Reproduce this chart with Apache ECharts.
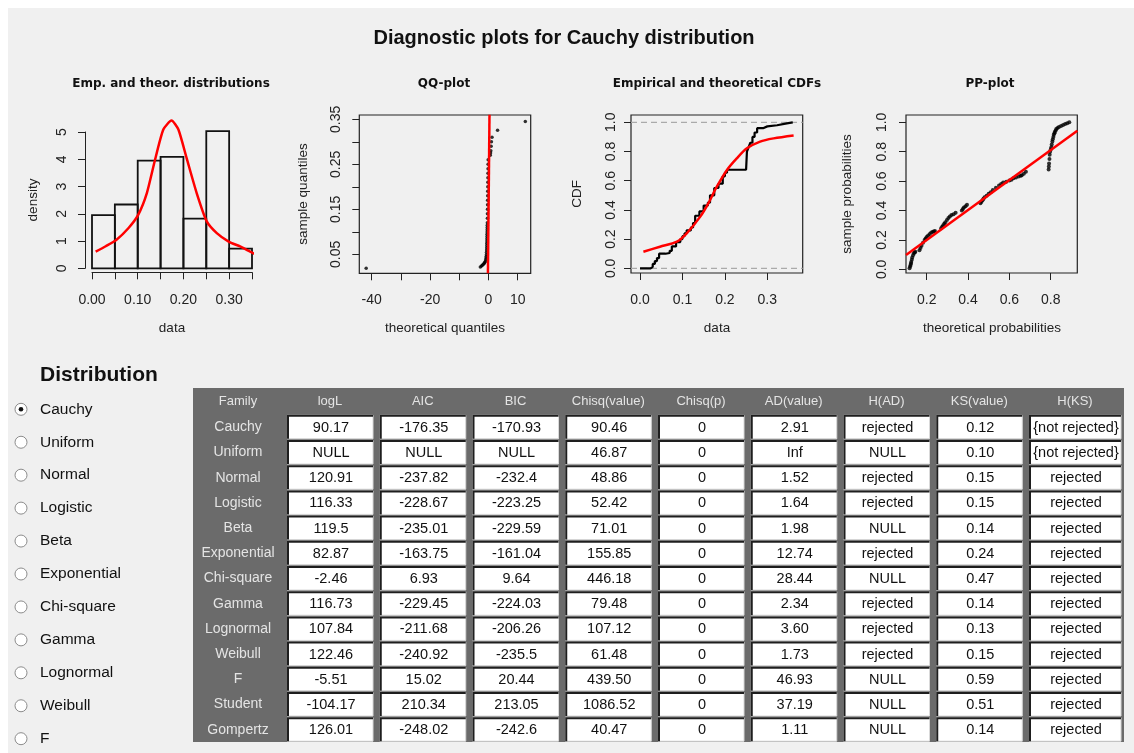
<!DOCTYPE html>
<html><head><meta charset="utf-8">
<script src="https://cdn.jsdelivr.net/npm/echarts@6/dist/echarts.min.js"></script>
<style>html,body{margin:0;padding:0;background:#fff;}#c{width:1134px;height:753px;}</style>
</head><body><div id="c"></div>
<script>
// ---------------- DATA ----------------
const mainTitle = 'Diagnostic plots for Cauchy distribution';
const plotTitles = ['Emp. and theor. distributions', 'QQ-plot', 'Empirical and theoretical CDFs', 'PP-plot'];
const xNames = ['data', 'theoretical quantiles', 'data', 'theoretical probabilities'];
const yNames = ['density', 'sample quantiles', 'CDF', 'sample probabilities'];

// histogram
const histBinEdges = [0, 0.05, 0.10, 0.15, 0.20, 0.25, 0.30, 0.35];
const histDensity = [1.95, 2.34, 3.95, 4.09, 1.82, 5.03, 0.72];
const densX = [0.008, 0.03, 0.053, 0.08, 0.101, 0.12, 0.137, 0.156, 0.174, 0.189, 0.207, 0.229, 0.251, 0.273, 0.299, 0.324, 0.345, 0.365];
const densY = [0.61, 0.81, 1.04, 1.48, 1.96, 2.76, 3.92, 5.09, 5.42, 5.09, 4.04, 2.76, 1.72, 1.29, 0.98, 0.80, 0.62, 0.45];
const histXTicks = [0, 0.05, 0.10, 0.15, 0.20, 0.25, 0.30, 0.35];
const histXLabels = [0, 0.10, 0.20, 0.30];
const histYTicks = [0, 1, 2, 3, 4, 5];

// QQ plot
const qqTheo = [-41.9, -2.8, -2.4, -2.1, -1.8, -1.5, -1.3, -1.1, -0.95, -0.85, -0.75, -0.7, -0.68, -0.65, -0.62, -0.6, -0.58, -0.56, -0.54, -0.52, -0.5, -0.48, -0.46, -0.44, -0.42, -0.4, -0.38, -0.36, -0.34, -0.32, -0.3, -0.28, -0.26, -0.24, -0.22, -0.2, -0.18, -0.16, -0.14, -0.12, 0.6, 0.7, 0.8, 0.9, 1.0, 1.2, 3.1, 12.6];
const qqSample = [0.019, 0.022, 0.024, 0.026, 0.028, 0.030, 0.032, 0.034, 0.038, 0.042, 0.046, 0.05, 0.055, 0.06, 0.065, 0.07, 0.075, 0.08, 0.085, 0.09, 0.095, 0.10, 0.105, 0.11, 0.115, 0.12, 0.13, 0.14, 0.15, 0.16, 0.17, 0.18, 0.19, 0.20, 0.21, 0.22, 0.23, 0.24, 0.25, 0.26, 0.27, 0.275, 0.28, 0.29, 0.30, 0.31, 0.326, 0.345];
const qqLineX = [-0.2, 0.34];
const qqLineY = [0.008, 0.36];
const qqXTicks = [-40, -30, -20, -10, 0, 10];
const qqXLabels = [-40, -20, 0, 10];
const qqYTicks = [0.05, 0.10, 0.15, 0.20, 0.25, 0.30, 0.35];
const qqYLabels = [0.05, 0.15, 0.25, 0.35];

// CDF plot
const ecdfX = [0.0, 0.02, 0.025, 0.03, 0.035, 0.04, 0.045, 0.06, 0.07, 0.075, 0.085, 0.095, 0.1, 0.105, 0.11, 0.12, 0.125, 0.13, 0.14, 0.15, 0.16, 0.165, 0.175, 0.185, 0.195, 0.2, 0.205, 0.25, 0.252, 0.256, 0.26, 0.265, 0.27, 0.276, 0.29, 0.3, 0.323, 0.346, 0.36];
const ecdfY = [0.0, 0.0, 0.01, 0.03, 0.05, 0.07, 0.10, 0.105, 0.12, 0.15, 0.18, 0.20, 0.22, 0.24, 0.26, 0.28, 0.31, 0.36, 0.39, 0.43, 0.45, 0.50, 0.55, 0.58, 0.63, 0.655, 0.675, 0.675, 0.80, 0.83, 0.86, 0.90, 0.93, 0.96, 0.972, 0.98, 0.993, 1.0, 1.0];
const cdfFitX = [0.008, 0.047, 0.087, 0.110, 0.142, 0.161, 0.181, 0.205, 0.228, 0.252, 0.283, 0.315, 0.362];
const cdfFitY = [0.114, 0.148, 0.183, 0.240, 0.354, 0.445, 0.559, 0.674, 0.753, 0.822, 0.868, 0.890, 0.910];
const cdfRefLevels = [0, 1];
const cdfXTicks = [0, 0.1, 0.2, 0.3];
const cdfYTicks = [0, 0.2, 0.4, 0.6, 0.8, 1.0];

// PP plot
const ppTheo = [0.117, 0.12, 0.122, 0.124, 0.125, 0.128, 0.13, 0.134, 0.138, 0.142, 0.145, 0.165, 0.17, 0.175, 0.182, 0.19, 0.195, 0.2, 0.207, 0.215, 0.222, 0.23, 0.235, 0.24, 0.27, 0.275, 0.28, 0.285, 0.29, 0.298, 0.305, 0.312, 0.32, 0.33, 0.34, 0.37, 0.375, 0.38, 0.388, 0.395, 0.46, 0.465, 0.47, 0.475, 0.48, 0.49, 0.5, 0.51, 0.52, 0.535, 0.55, 0.56, 0.57, 0.585, 0.6, 0.61, 0.62, 0.632, 0.645, 0.655, 0.66, 0.67, 0.68, 0.79, 0.791, 0.792, 0.794, 0.795, 0.797, 0.8, 0.803, 0.805, 0.808, 0.81, 0.813, 0.815, 0.818, 0.82, 0.824, 0.827, 0.833, 0.84, 0.85, 0.86, 0.87, 0.88, 0.89];
const ppSample = [0.007, 0.02, 0.03, 0.04, 0.05, 0.065, 0.08, 0.095, 0.11, 0.115, 0.12, 0.13, 0.145, 0.16, 0.18, 0.2, 0.21, 0.22, 0.23, 0.24, 0.25, 0.256, 0.258, 0.26, 0.28, 0.29, 0.30, 0.31, 0.32, 0.335, 0.35, 0.36, 0.37, 0.375, 0.385, 0.40, 0.41, 0.42, 0.43, 0.44, 0.45, 0.46, 0.47, 0.48, 0.49, 0.5, 0.515, 0.525, 0.54, 0.555, 0.57, 0.58, 0.59, 0.595, 0.605, 0.61, 0.62, 0.625, 0.632, 0.636, 0.64, 0.65, 0.664, 0.68, 0.70, 0.72, 0.75, 0.78, 0.80, 0.815, 0.83, 0.85, 0.87, 0.885, 0.9, 0.915, 0.925, 0.935, 0.945, 0.955, 0.962, 0.968, 0.975, 0.982, 0.988, 0.994, 1.0];
const ppLineX = [0.1, 0.929];
const ppLineY = [0.097, 0.943];
const ppXTicks = [0.2, 0.4, 0.6, 0.8];
const ppYTicks = [0, 0.2, 0.4, 0.6, 0.8, 1.0];

// table
const families = ['Cauchy', 'Uniform', 'Normal', 'Logistic', 'Beta', 'Exponential', 'Chi-square', 'Gamma', 'Lognormal', 'Weibull', 'F', 'Student', 'Gompertz'];
const colHeaders = ['Family', 'logL', 'AIC', 'BIC', 'Chisq(value)', 'Chisq(p)', 'AD(value)', 'H(AD)', 'KS(value)', 'H(KS)'];
const logL = ['90.17', 'NULL', '120.91', '116.33', '119.5', '82.87', '-2.46', '116.73', '107.84', '122.46', '-5.51', '-104.17', '126.01'];
const aic = ['-176.35', 'NULL', '-237.82', '-228.67', '-235.01', '-163.75', '6.93', '-229.45', '-211.68', '-240.92', '15.02', '210.34', '-248.02'];
const bic = ['-170.93', 'NULL', '-232.4', '-223.25', '-229.59', '-161.04', '9.64', '-224.03', '-206.26', '-235.5', '20.44', '213.05', '-242.6'];
const chisqValue = ['90.46', '46.87', '48.86', '52.42', '71.01', '155.85', '446.18', '79.48', '107.12', '61.48', '439.50', '1086.52', '40.47'];
const chisqP = ['0', '0', '0', '0', '0', '0', '0', '0', '0', '0', '0', '0', '0'];
const adValue = ['2.91', 'Inf', '1.52', '1.64', '1.98', '12.74', '28.44', '2.34', '3.60', '1.73', '46.93', '37.19', '1.11'];
const hAD = ['rejected', 'NULL', 'rejected', 'rejected', 'NULL', 'rejected', 'NULL', 'rejected', 'rejected', 'rejected', 'NULL', 'NULL', 'NULL'];
const ksValue = ['0.12', '0.10', '0.15', '0.15', '0.14', '0.24', '0.47', '0.14', '0.13', '0.15', '0.59', '0.51', '0.14'];
const hKS = ['{not rejected}', '{not rejected}', 'rejected', 'rejected', 'rejected', 'rejected', 'rejected', 'rejected', 'rejected', 'rejected', 'rejected', 'rejected', 'rejected'];

// radio list
const radioTitle = 'Distribution';
const radioOptions = ['Cauchy', 'Uniform', 'Normal', 'Logistic', 'Beta', 'Exponential', 'Chi-square', 'Gamma', 'Lognormal', 'Weibull', 'F'];
const radioSelected = 'Cauchy';

// ---------------- BUILD ----------------
const FONT = 'Arial, "Liberation Sans", sans-serif';
const TFONT = '"DejaVu Sans", Verdana, sans-serif';
const TXT = '#222';
const zip = (a, b) => a.map((v, i) => [v, b[i]]);

function xAx(gi, min, max, ticks, labels, dec, margin, offset, line) {
  return {
    type: 'value', gridIndex: gi, min: min, max: max, offset: offset || 0,
    axisLine: {show: !!line, onZero: false, lineStyle: {color: '#222', width: 1}},
    axisTick: {show: true, length: 7, inside: false, customValues: ticks, lineStyle: {color: '#222', width: 1}},
    axisLabel: {customValues: labels, formatter: v => Number(v).toFixed(dec), margin: margin, fontSize: 14, color: TXT, fontFamily: FONT},
    splitLine: {show: false}
  };
}
function yAx(gi, min, max, ticks, labels, dec, margin, offset, line) {
  const a = xAx(gi, min, max, ticks, labels, dec, margin, offset, line);
  a.axisLabel.rotate = 90;
  return a;
}

const boxGrid = {show: true, borderColor: '#222', borderWidth: 1.2, backgroundColor: 'transparent'};
const grids = [
  {left: 92, top: 132, width: 160, height: 136.3, show: false},
  Object.assign({left: 359.3, top: 115, width: 171.4, height: 158.3}, boxGrid),
  Object.assign({left: 631, top: 115, width: 171.7, height: 158}, boxGrid),
  Object.assign({left: 906, top: 115, width: 171.3, height: 158}, boxGrid)
];

const xAxes = [
  xAx(0, 0, 0.35, histXTicks, histXLabels, 2, 21, 4, true),
  xAx(1, -44.25, 14.45, qqXTicks, qqXLabels, 0, 20, 0, false),
  xAx(2, -0.0212, 0.3834, cdfXTicks, cdfXTicks, 1, 20, 0, false),
  xAx(3, 0.0999, 0.9287, ppXTicks, ppXTicks, 1, 20, 0, false)
];
const yAxes = [
  yAx(0, 0, 5, histYTicks, histYTicks, 0, 16, 7, true),
  yAx(1, 0.008, 0.3596, qqYTicks, qqYLabels, 2, 16, 0, false),
  yAx(2, -0.032, 1.05, cdfYTicks, cdfYTicks, 1, 13, 0, false),
  yAx(3, -0.025, 1.05, ppYTicks, ppYTicks, 1, 17, 0, false)
];

const RED = '#ff0000';
const series = [
  {
    type: 'custom', xAxisIndex: 0, yAxisIndex: 0, clip: false,
    data: histDensity.map((d, i) => [histBinEdges[i], histBinEdges[i + 1], d]),
    encode: {x: [0, 1], y: 2},
    renderItem: function (params, api) {
      const p0 = api.coord([api.value(0), api.value(2)]);
      const p1 = api.coord([api.value(1), 0]);
      return {type: 'rect', shape: {x: p0[0], y: p0[1], width: p1[0] - p0[0], height: p1[1] - p0[1]},
        style: {fill: 'none', stroke: '#111', lineWidth: 1.8}};
    }
  },
  {type: 'line', xAxisIndex: 0, yAxisIndex: 0, data: zip(densX, densY), smooth: 0.2, showSymbol: false, clip: false,
    lineStyle: {color: RED, width: 2.5}, z: 5},
  {type: 'scatter', xAxisIndex: 1, yAxisIndex: 1, data: zip(qqTheo, qqSample), symbolSize: 3.5,
    itemStyle: {color: '#000'}},
  {type: 'line', xAxisIndex: 1, yAxisIndex: 1, data: zip(qqLineX, qqLineY), showSymbol: false,
    lineStyle: {color: RED, width: 2.5}},
  ...cdfRefLevels.map(l => ({type: 'line', xAxisIndex: 2, yAxisIndex: 2, data: [[-0.0212, l], [0.3834, l]], showSymbol: false,
    lineStyle: {color: '#aaaaaa', width: 1.3, type: [6, 4]}})),
  {type: 'line', xAxisIndex: 2, yAxisIndex: 2, data: zip(ecdfX, ecdfY), step: 'end', showSymbol: false,
    lineStyle: {color: '#000', width: 2.2}},
  {type: 'line', xAxisIndex: 2, yAxisIndex: 2, data: zip(cdfFitX, cdfFitY), smooth: 0.3, showSymbol: false,
    lineStyle: {color: RED, width: 2.5}},
  {type: 'scatter', xAxisIndex: 3, yAxisIndex: 3, data: zip(ppTheo, ppSample), symbolSize: 4,
    itemStyle: {color: '#000'}},
  {type: 'line', xAxisIndex: 3, yAxisIndex: 3, data: zip(ppLineX, ppLineY), showSymbol: false,
    lineStyle: {color: RED, width: 2.5}}
];

// ---------------- GRAPHIC (texts, table, radios) ----------------
const g = [];
g.push({type: 'rect', z: -10, shape: {x: 0, y: 0, width: 1134, height: 8}, style: {fill: '#ffffff'}, silent: true});
g.push({type: 'rect', z: -10, shape: {x: 0, y: 0, width: 8, height: 753}, style: {fill: '#ffffff'}, silent: true});
function txt(t, x, y, font, opts) {
  const o = Object.assign({align: 'center', verticalAlign: 'middle', fill: TXT, rot: 0}, opts || {});
  return {type: 'text', x: x, y: y, rotation: o.rot, z: 10,
    style: {text: t, font: font, fill: o.fill, align: o.align, verticalAlign: o.verticalAlign}};
}
g.push(txt(mainTitle, 564, 38, 'bold 20px ' + FONT, {fill: '#111'}));
const titleX = [171, 444, 717, 990];
plotTitles.forEach((t, i) => g.push(txt(t, titleX[i], 84, 'bold 12px ' + TFONT, {fill: '#111'})));
const xNameX = [172, 445, 717, 992];
xNames.forEach((t, i) => g.push(txt(t, xNameX[i], 328.5, '13.5px ' + FONT)));
const yNameX = [33, 303, 577, 847];
const yNameY = [200, 194, 194, 194];
yNames.forEach((t, i) => g.push(txt(t, yNameX[i], yNameY[i], '13.5px ' + FONT, {rot: Math.PI / 2})));

// table
const tableCols = [logL, aic, bic, chisqValue, chisqP, adValue, hAD, ksValue, hKS];
const cellX = j => 287 + 92.75 * j;
const cellW = j => (j === 8 ? 92 : 86);
const rowY = i => 427.3 + 25.2 * i;
g.push({type: 'rect', shape: {x: 193, y: 388, width: 931, height: 354}, style: {fill: '#6b6b6b'}});
colHeaders.forEach((h, j) => {
  const cx = j === 0 ? 238 : cellX(j - 1) + cellW(j - 1) / 2;
  g.push(txt(h, cx, 401.5, '13px ' + FONT, {fill: '#e4e4e4'}));
});
families.forEach((f, i) => {
  const cy = rowY(i);
  g.push(txt(f, 238, cy, '14px ' + FONT, {fill: '#e4e4e4'}));
  tableCols.forEach((col, j) => {
    const x0 = cellX(j), w = cellW(j), y0 = cy - 12.5, h = 24;
    g.push({type: 'rect', shape: {x: x0, y: y0, width: w, height: h}, style: {fill: '#ffffff'}});
    g.push({type: 'polyline', shape: {points: [[x0 + w, y0 + 0.5], [x0 + w, y0 + h], [x0, y0 + h]]}, style: {stroke: '#d9d9d9', lineWidth: 1, fill: null}});
    g.push({type: 'polyline', shape: {points: [[x0 + 1, y0 + h], [x0 + 1, y0 + 1], [x0 + w, y0 + 1]]}, style: {stroke: '#1e1e1e', lineWidth: 2, fill: null}});
    g.push(txt(col[i], x0 + w / 2 + 1, cy + 0.5, '14.5px ' + FONT, {fill: '#111'}));
  });
});

// radios
g.push(txt(radioTitle, 40, 375, 'bold 21px ' + FONT, {align: 'left', fill: '#111'}));
radioOptions.forEach((r, i) => {
  const cy = 409.3 + 32.94 * i;
  g.push({type: 'circle', shape: {cx: 21, cy: cy, r: 6}, style: {fill: '#ffffff', stroke: '#8c8c8c', lineWidth: 1}});
  if (r === radioSelected) g.push({type: 'circle', shape: {cx: 21, cy: cy, r: 2.3}, style: {fill: '#111'}});
  g.push(txt(r, 40, cy, '15.5px ' + FONT, {align: 'left', fill: '#111'}));
});

const chart = echarts.init(document.getElementById('c'), null, {renderer: 'canvas'});
chart.setOption({
  backgroundColor: '#f0f0f0',
  animation: false,
  grid: grids,
  xAxis: xAxes,
  yAxis: yAxes,
  series: series,
  graphic: {elements: g}
});
</script></body></html>
